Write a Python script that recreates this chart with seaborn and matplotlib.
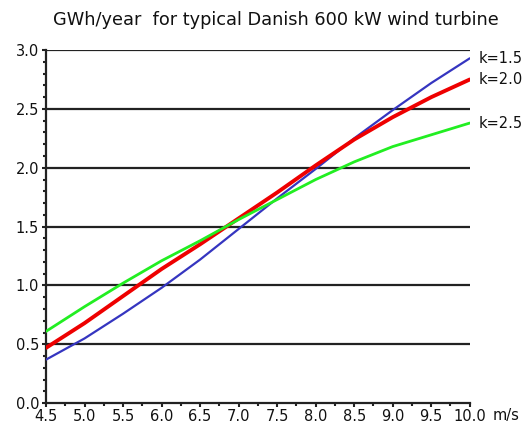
import numpy as np
import pandas as pd
import seaborn as sns
import matplotlib.pyplot as plt
from matplotlib.ticker import MultipleLocator

# Dados
velocidade = [4.5, 5.0, 5.5, 6.0, 6.5, 7.0, 7.5, 8.0, 8.5, 9.0, 9.5, 10.0]
k15 = [0.37, 0.55, 0.76, 0.98, 1.22, 1.48, 1.74, 1.99, 2.25, 2.49, 2.72, 2.93]
k20 = [0.47, 0.68, 0.91, 1.14, 1.35, 1.57, 1.79, 2.02, 2.24, 2.43, 2.60, 2.75]
k25 = [0.61, 0.82, 1.02, 1.21, 1.38, 1.56, 1.73, 1.90, 2.05, 2.18, 2.28, 2.38]
rotulos = ['k=1.5', 'k=2.0', 'k=2.5']

df = pd.DataFrame({'v': velocidade * 3,
                   'gwh': k15 + k20 + k25,
                   'k': [r for r in rotulos for _ in velocidade]})

sns.set_style('white')
plt.rcParams['font.family'] = ['DejaVu Sans']
plt.rcParams['text.color'] = '#111111'
plt.rcParams['xtick.color'] = '#222222'
plt.rcParams['ytick.color'] = '#222222'

fig = plt.figure(figsize=(5.29, 4.28), dpi=100)
ax = fig.add_axes([0.087, 0.058, 0.801, 0.825])

# linhas horizontais de grade
for yv in [0.5, 1.0, 1.5, 2.0, 2.5, 3.0]:
    ax.axhline(yv, color='#222222', lw=1.6, zorder=1)

cores = {'k=1.5': '#3535c0', 'k=2.0': '#ee0000', 'k=2.5': '#22ee22'}
larguras = {'k=1.5': 1.6, 'k=2.0': 2.8, 'k=2.5': 2.0}
for r in rotulos:
    sns.lineplot(data=df[df['k'] == r], x='v', y='gwh', color=cores[r],
                 lw=larguras[r], ax=ax, zorder=3)

ax.set_xlim(4.5, 10.0)
ax.set_ylim(0, 3.0)
ax.xaxis.set_major_locator(MultipleLocator(0.5))
ax.xaxis.set_minor_locator(MultipleLocator(0.25))
ax.yaxis.set_major_locator(MultipleLocator(0.5))
ax.yaxis.set_minor_locator(MultipleLocator(0.1))
ax.set_xticklabels([f'{v:.1f}' for v in ax.get_xticks()])
ax.set_yticklabels([f'{v:.1f}' for v in ax.get_yticks()])
ax.tick_params(axis='both', which='both', bottom=True, left=True,
               labelcolor='#111111', direction='out')
ax.tick_params(axis='both', which='major', length=3, width=1.5,
               labelsize=10.5, pad=2)
ax.tick_params(axis='both', which='minor', length=2.5, width=1.5)
ax.tick_params(axis='x', pad=1)

for s in ['top', 'right']:
    ax.spines[s].set_visible(False)
for s in ['left', 'bottom']:
    ax.spines[s].set_color('#222222')
    ax.spines[s].set_linewidth(1.6)

ax.set_xlabel('')
ax.set_ylabel('')

ultimos = [k15[-1], k20[-1], k25[-1]]
for r, yv in zip(rotulos, ultimos):
    ax.text(10.12, yv, r, fontsize=10.5, ha='left', va='center', clip_on=False)
ax.text(10.3, -0.04, 'm/s', fontsize=10.5, ha='left', va='top', clip_on=False)

fig.text(0.522, 0.953, 'GWh/year  for typical Danish 600 kW wind turbine',
         ha='center', va='center', fontsize=12.8)

plt.savefig('out.png', dpi=100)
